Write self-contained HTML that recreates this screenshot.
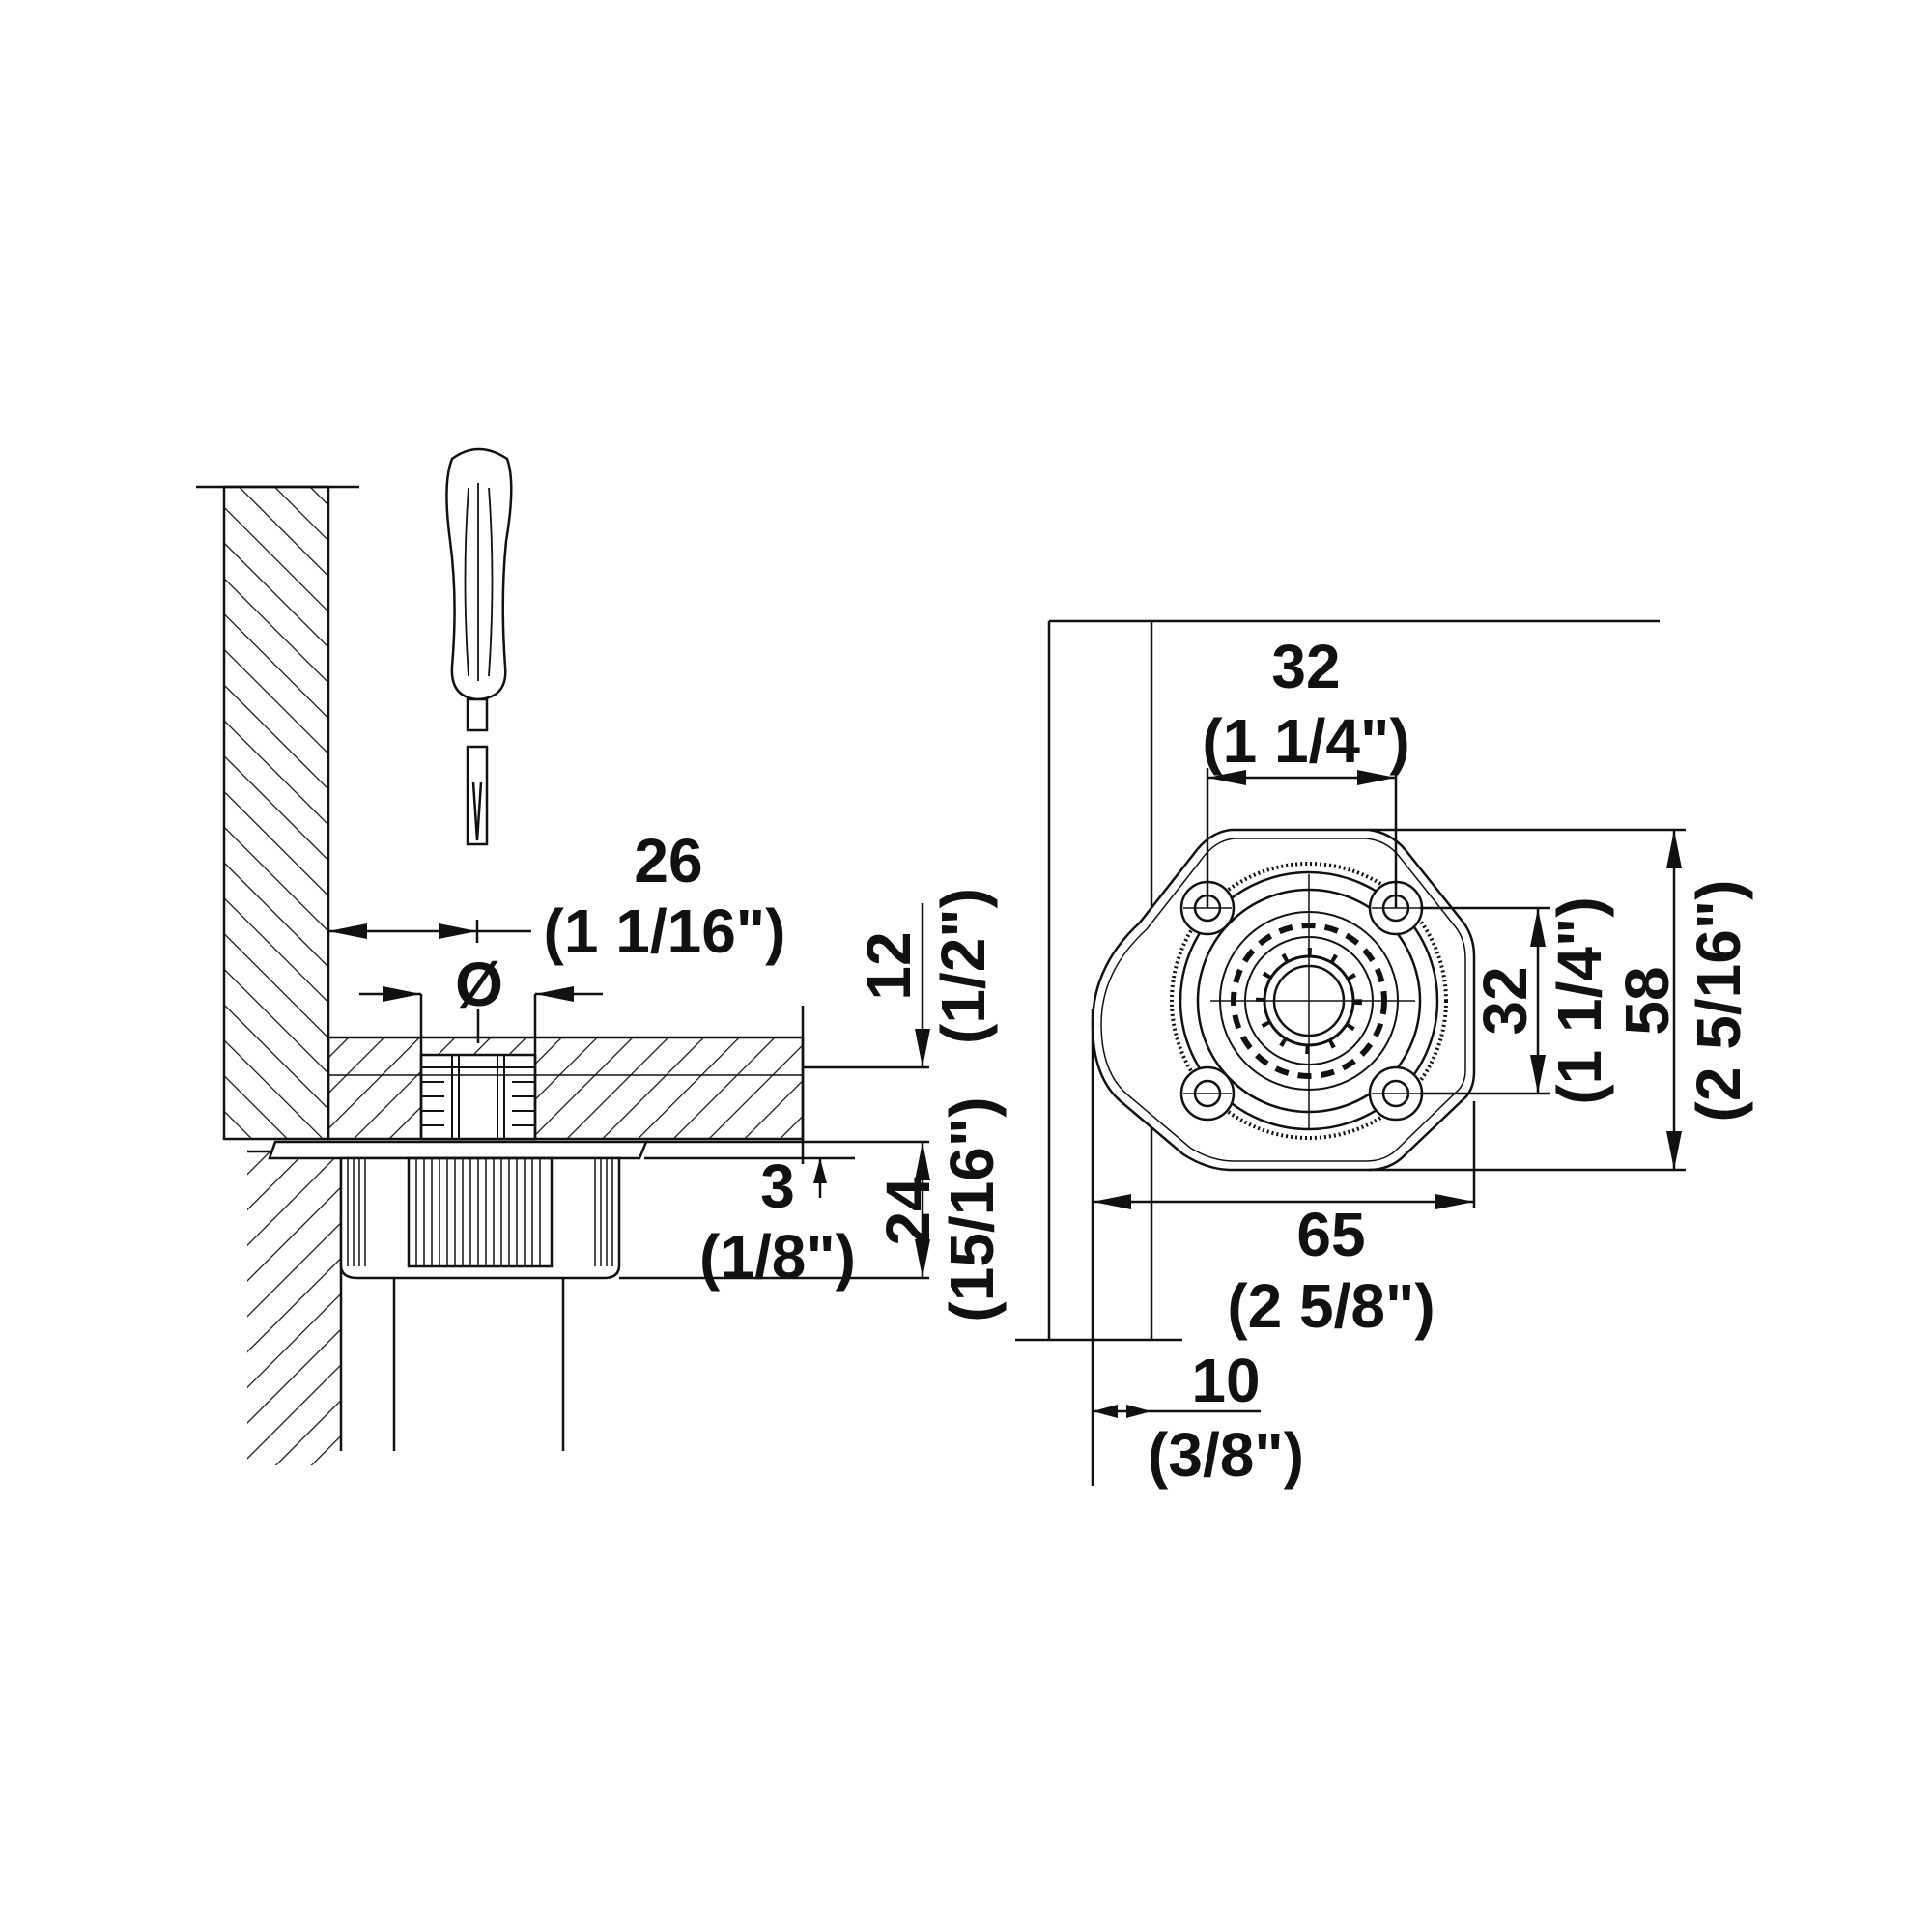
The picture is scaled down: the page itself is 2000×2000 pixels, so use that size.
<!DOCTYPE html>
<html><head><style>
html,body{margin:0;padding:0;background:#fff;}
svg{display:block}
text{font-family:"Liberation Sans",Arial,sans-serif;font-weight:bold;font-size:64px;fill:#111;text-anchor:middle;dominant-baseline:central}
</style></head><body>
<svg width="2000" height="2000" viewBox="0 0 2000 2000" xmlns="http://www.w3.org/2000/svg">
<defs>
<pattern id="hb" patternUnits="userSpaceOnUse" width="26" height="26" patternTransform="rotate(-45)">
<line x1="0" y1="0" x2="0" y2="26" stroke="#111" stroke-width="2.5"/></pattern>
<pattern id="hf" patternUnits="userSpaceOnUse" width="26" height="26" patternTransform="rotate(45)">
<line x1="0" y1="0" x2="0" y2="26" stroke="#111" stroke-width="2.5"/></pattern>
<marker id="a" viewBox="0 0 40 16" refX="40" refY="8" markerWidth="40" markerHeight="16" markerUnits="userSpaceOnUse" orient="auto-start-reverse">
<path d="M0,0 L40,8 L0,16 Z" fill="#111"/></marker>
<marker id="as" viewBox="0 0 26 14" refX="26" refY="7" markerWidth="26" markerHeight="14" markerUnits="userSpaceOnUse" orient="auto-start-reverse">
<path d="M0,0 L26,7 L0,14 Z" fill="#111"/></marker>
</defs>
<g stroke="#111" stroke-width="2.5" fill="none">
<rect x="232" y="504" width="108" height="675" fill="url(#hb)"/>
<line x1="203" y1="504" x2="372" y2="504"/>
<rect x="340" y="1074" width="491" height="105" fill="url(#hf)"/>
<rect x="436" y="1092" width="118" height="87" fill="#fff"/>
<line x1="831" y1="1041" x2="831" y2="1205"/>
<line x1="831" y1="1105" x2="962" y2="1105"/>
<line x1="831" y1="1113" x2="340" y2="1113" stroke-width="1.5"/>
<g stroke-width="2">
<line x1="436" y1="1105" x2="554" y2="1105"/>
<line x1="468" y1="1092" x2="468" y2="1180"/><line x1="475" y1="1092" x2="475" y2="1180"/>
<line x1="515" y1="1092" x2="515" y2="1180"/><line x1="522" y1="1092" x2="522" y2="1180"/>
<line x1="436" y1="1120" x2="460" y2="1120"/><line x1="436" y1="1135" x2="460" y2="1135"/><line x1="436" y1="1150" x2="460" y2="1150"/><line x1="436" y1="1165" x2="460" y2="1165"/>
<line x1="530" y1="1120" x2="554" y2="1120"/><line x1="530" y1="1135" x2="554" y2="1135"/><line x1="530" y1="1150" x2="554" y2="1150"/><line x1="530" y1="1165" x2="554" y2="1165"/>
</g>
<rect x="256" y="1192" width="97" height="325" fill="url(#hf)" stroke="none"/>
<line x1="353" y1="1192" x2="353" y2="1502"/>
<line x1="256" y1="1192" x2="353" y2="1192"/>
<path d="M285,1182 L669,1182 L662,1199 L279,1199 Z" fill="#fff"/>
<path d="M353,1199 L641,1199 L641,1310 Q641,1323 625,1323 L370,1323 Q353,1323 353,1310 Z" fill="#fff"/>
<rect x="423" y="1199" width="148" height="112"/>
<g stroke-width="1.5">
<line x1="431" y1="1199" x2="431" y2="1311"/><line x1="439" y1="1199" x2="439" y2="1311"/><line x1="447" y1="1199" x2="447" y2="1311"/><line x1="455" y1="1199" x2="455" y2="1311"/><line x1="463" y1="1199" x2="463" y2="1311"/><line x1="471" y1="1199" x2="471" y2="1311"/><line x1="479" y1="1199" x2="479" y2="1311"/><line x1="487" y1="1199" x2="487" y2="1311"/><line x1="495" y1="1199" x2="495" y2="1311"/><line x1="503" y1="1199" x2="503" y2="1311"/><line x1="511" y1="1199" x2="511" y2="1311"/><line x1="519" y1="1199" x2="519" y2="1311"/><line x1="527" y1="1199" x2="527" y2="1311"/><line x1="535" y1="1199" x2="535" y2="1311"/><line x1="543" y1="1199" x2="543" y2="1311"/><line x1="551" y1="1199" x2="551" y2="1311"/><line x1="559" y1="1199" x2="559" y2="1311"/>
<line x1="360" y1="1199" x2="360" y2="1311"/><line x1="366" y1="1199" x2="366" y2="1311"/><line x1="372" y1="1199" x2="372" y2="1311"/><line x1="378" y1="1199" x2="378" y2="1311"/>
<line x1="616" y1="1199" x2="616" y2="1311"/><line x1="622" y1="1199" x2="622" y2="1311"/><line x1="628" y1="1199" x2="628" y2="1311"/><line x1="634" y1="1199" x2="634" y2="1311"/>
</g>
<line x1="408" y1="1323" x2="408" y2="1502"/>
<line x1="583" y1="1323" x2="583" y2="1502"/>
<path d="M468,475 Q495,455 525,475 Q534,500 524,560 Q518,620 523,690 Q526,722 495,724 Q466,722 468,690 Q474,620 466,560 Q458,500 468,475 Z" fill="#fff"/>
<path d="M485,505 Q478,600 485,700 M495,500 L495,705 M506,505 Q513,600 506,700" stroke-width="1.8"/>
<rect x="484" y="724" width="20" height="32" fill="#fff"/>
<path d="M484,773 L504,773 L504,874 L484,874 Z M490,810 L494,870 L498,810" fill="#fff"/>
<line x1="340" y1="964" x2="494" y2="964" marker-start="url(#a)" marker-end="url(#a)"/>
<line x1="494" y1="952" x2="494" y2="976"/><line x1="494" y1="964" x2="550" y2="964"/>
<line x1="372" y1="1029" x2="436" y2="1029" marker-end="url(#a)"/>
<line x1="624" y1="1029" x2="554" y2="1029" marker-end="url(#a)"/>
<line x1="436" y1="1029" x2="436" y2="1180"/><line x1="554" y1="1029" x2="554" y2="1180"/>
<line x1="495" y1="1045" x2="495" y2="1080"/>
<line x1="955" y1="935" x2="955" y2="1105" marker-end="url(#a)"/>
<line x1="955" y1="1182" x2="955" y2="1323" marker-start="url(#a)" marker-end="url(#a)"/>
<line x1="669" y1="1182" x2="962" y2="1182"/>
<line x1="641" y1="1323" x2="962" y2="1323"/>
<line x1="667" y1="1199" x2="885" y2="1199"/>
<line x1="849" y1="1240" x2="849" y2="1199" marker-end="url(#as)"/>

<line x1="1086" y1="643" x2="1086" y2="1387"/>
<line x1="1192" y1="643" x2="1192" y2="1387"/>
<line x1="1086" y1="643" x2="1718" y2="643"/>
<line x1="1051" y1="1387" x2="1224" y2="1387"/>
<path d="M1275,859 L1417,859 Q1440,862 1455,880 L1515,955 Q1526,970 1526,990 L1526,1110 Q1526,1125 1518,1135 L1455,1195 Q1440,1211 1417,1211 L1275,1211 Q1250,1211 1225,1195 L1160,1140 Q1131,1115 1131,1060 Q1131,1000 1180,955 L1235,885 Q1252,861 1275,859 Z" fill="#fff"/>
<path d="M1278,868 L1414,868 Q1435,870 1448,886 L1507,960 Q1517,973 1517,992 L1517,1108 Q1517,1120 1510,1128 L1448,1188 Q1435,1202 1414,1202 L1278,1202 Q1254,1202 1232,1188 L1167,1133 Q1140,1110 1140,1060 Q1140,1005 1187,962 L1242,892 Q1257,870 1278,868 Z" stroke-width="1.5"/>
<circle cx="1355" cy="1036" r="142" stroke-dasharray="2 3" stroke-width="4"/>
<circle cx="1355" cy="1036" r="133"/>
<circle cx="1355" cy="1036" r="115"/>
<circle cx="1355" cy="1036" r="92" stroke-width="2"/>
<circle cx="1355" cy="1036" r="78" stroke-dasharray="14 10" stroke-width="6"/>
<circle cx="1355" cy="1036" r="66" stroke-width="2"/>
<circle cx="1355" cy="1036" r="46" stroke-width="3"/>
<circle cx="1355" cy="1036" r="36"/>
<circle cx="1355" cy="1036" r="50" stroke-dasharray="4 22" stroke-width="10"/>
<g fill="#fff">
<circle cx="1250" cy="940" r="27"/><circle cx="1250" cy="940" r="13"/>
<circle cx="1445" cy="940" r="27"/><circle cx="1445" cy="940" r="13"/>
<circle cx="1250" cy="1132" r="27"/><circle cx="1250" cy="1132" r="13"/>
<circle cx="1445" cy="1132" r="27"/><circle cx="1445" cy="1132" r="13"/>
</g>
<g stroke-width="1.5">
<line x1="1225" y1="940" x2="1275" y2="940"/><line x1="1420" y1="940" x2="1470" y2="940"/>
<line x1="1225" y1="1132" x2="1275" y2="1132"/><line x1="1420" y1="1132" x2="1470" y2="1132"/>
<line x1="1253" y1="1036" x2="1465" y2="1036"/>
<line x1="1355" y1="905" x2="1355" y2="1170"/>
</g>
<line x1="1250" y1="805" x2="1445" y2="805" marker-start="url(#a)" marker-end="url(#a)"/>
<line x1="1250" y1="795" x2="1250" y2="940"/><line x1="1445" y1="795" x2="1445" y2="940"/>
<line x1="1470" y1="940" x2="1605" y2="940"/><line x1="1470" y1="1132" x2="1605" y2="1132"/>
<line x1="1592" y1="940" x2="1592" y2="1132" marker-start="url(#a)" marker-end="url(#a)"/>
<line x1="1417" y1="859" x2="1745" y2="859"/><line x1="1417" y1="1211" x2="1745" y2="1211"/>
<line x1="1733" y1="859" x2="1733" y2="1211" marker-start="url(#a)" marker-end="url(#a)"/>
<line x1="1131" y1="1045" x2="1131" y2="1538"/>
<line x1="1526" y1="1140" x2="1526" y2="1250"/>
<line x1="1131" y1="1244" x2="1526" y2="1244" marker-start="url(#a)" marker-end="url(#a)"/>
<line x1="1131" y1="1461" x2="1192" y2="1461" marker-start="url(#as)" marker-end="url(#as)"/>
<line x1="1192" y1="1461" x2="1305" y2="1461"/>
</g>
<text x="692" y="891">26</text>
<text x="688" y="964">(1 1/16")</text>
<text x="496" y="1019">Ø</text>
<text x="920" y="1000" transform="rotate(-90 920 1000)">12</text>
<text x="997" y="1000" transform="rotate(-90 997 1000)">(1/2")</text>
<text x="940" y="1254" transform="rotate(-90 940 1254)">24</text>
<text x="1006" y="1252" transform="rotate(-90 1006 1252)">(15/16")</text>
<text x="805" y="1228">3</text>
<text x="805" y="1301">(1/8")</text>
<text x="1352" y="690">32</text>
<text x="1352" y="767">(1 1/4")</text>
<text x="1558" y="1036" transform="rotate(-90 1558 1036)">32</text>
<text x="1635" y="1036" transform="rotate(-90 1635 1036)">(1 1/4")</text>
<text x="1705" y="1036" transform="rotate(-90 1705 1036)">58</text>
<text x="1779" y="1036" transform="rotate(-90 1779 1036)">(2 5/16")</text>
<text x="1378" y="1278">65</text>
<text x="1378" y="1352">(2 5/8")</text>
<text x="1269" y="1429">10</text>
<text x="1269" y="1506">(3/8")</text>
</svg>
</body></html>
